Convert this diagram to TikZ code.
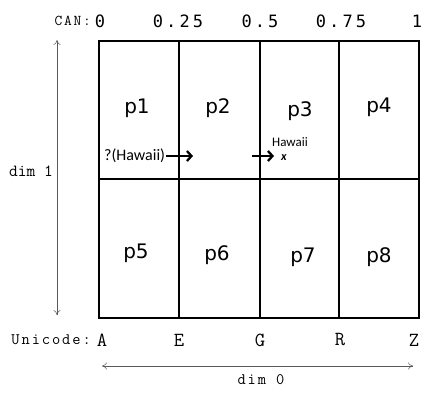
\documentclass[tikz,border=0pt]{standalone}
\usepackage{fontspec}
\newfontfamily\calib{Carlito}
\newfontfamily\dvs{DejaVu Sans}
\newfontfamily\dvm[LetterSpace=18]{DejaVu Sans Mono}
\newfontfamily\ttsq[LetterSpace=12]{Latin Modern Mono}
\usetikzlibrary{arrows.meta}
\begin{document}
\begin{tikzpicture}[x=1pt,y=-1pt,
  grid/.style={line width=1.6pt},
  plab/.style={font=\dvs\fontsize{20}{22}\selectfont,inner sep=0pt},
  tick/.style={font=\dvm\fontsize{17}{19}\selectfont,inner sep=0pt},
  letter/.style={font=\ttfamily\fontsize{20}{22}\selectfont,inner sep=0pt},
  dimarrow/.style={draw=black!65,line width=0.5pt,{To[length=5pt,width=7pt]}-{To[length=5pt,width=7pt]}},
  harrow/.style={line width=2.3pt,-{Straight Barb[length=4.5pt,width=10pt,line width=2.3pt]}}]
\useasboundingbox (0,0) rectangle (425,394);
% grid
\draw[grid] (99,41) rectangle (419,318);
\foreach \x in {179,260,339} \draw[grid] (\x,41) -- (\x,318);
\draw[grid] (99,179) -- (419,179);
% cell labels
\node[plab] (p1) at (137,108) {p1};
\node[plab] (p2) at (218,108) {p2};
\node[plab] (p3) at (300,111) {p3};
\node[plab] (p4) at (379,107) {p4};
\node[plab] (p5) at (136,253) {p5};
\node[plab] (p6) at (217,255) {p6};
\node[plab] (p7) at (303,257) {p7};
\node[plab] (p8) at (379,257) {p8};
% top labels
\node[font=\ttsq\fontsize{15}{17}\selectfont,anchor=east,inner sep=0pt] (can) at (91,21) {CAN:};
\node[tick] (t0) at (100,21) {0};
\node[tick] (t1) at (178,21) {0.25};
\node[tick] (t2) at (260,21) {0.5};
\node[tick] (t3) at (341,21) {0.75};
\node[tick] (t4) at (417,21) {1};
% bottom labels
\node[font=\ttsq\fontsize{16}{18}\selectfont,anchor=east,inner sep=0pt] (uni) at (91,340) {Unicode:};
\node[letter] (ua) at (102,340) {A};
\node[letter] (ue) at (179,340) {E};
\node[letter] (ug) at (260,340) {G};
\node[letter] (ur) at (340,340) {R};
\node[letter] (uz) at (414,340) {Z};
% dimension arrows
\coordinate (v1) at (57,40);
\coordinate (v2) at (57,315);
\draw[dimarrow] (v1) -- (v2);
\node[font=\ttfamily\fontsize{17}{19}\selectfont,inner sep=0pt] (d1) at (31,171) {dim 1};
\coordinate (h1) at (102,366);
\coordinate (h2) at (413,366);
\draw[dimarrow] (h1) -- (h2);
\node[font=\ttsq\fontsize{16}{18}\selectfont,inner sep=0pt] (d0) at (261,380) {dim 0};
% Hawaii
\node[font=\calib\fontsize{16}{18}\selectfont,anchor=west,inner sep=0pt] (q) at (104,156) {?(Hawaii)};
\coordinate (a2) at (193,156);
\draw[harrow] (q.east) ++(1,0) coordinate (a1) (a1) -- (a2);
\coordinate (b1) at (252,156);
\coordinate (b2) at (274,156);
\draw[harrow] (b1) -- (b2);
\node[font=\calib\bfseries\itshape\fontsize{12}{13}\selectfont,inner sep=0pt] (xm) at (284,158) {x};
\node[font=\calib\fontsize{13}{15}\selectfont,inner sep=0pt] (hw) at (290,142) {Hawaii};
\end{tikzpicture}
\end{document}
